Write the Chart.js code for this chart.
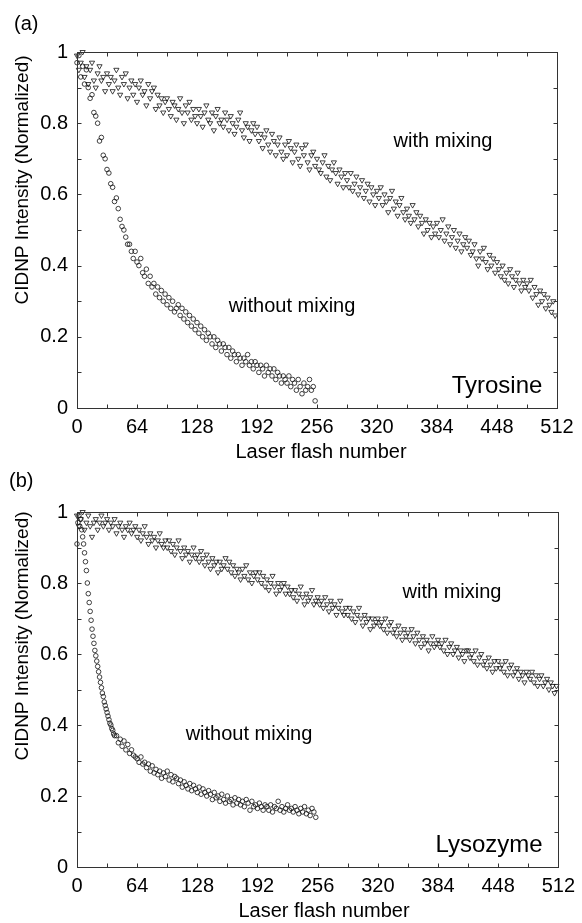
<!DOCTYPE html>
<html><head><meta charset="utf-8">
<script src="https://cdn.jsdelivr.net/npm/chart.js@4.4.0/dist/chart.umd.min.js"></script>
<style>
html,body{margin:0;padding:0;background:#fff;}
#wrap{position:relative;width:582px;height:923px;overflow:hidden;}
.panel{position:absolute;left:0;width:582px;}
canvas{display:block;}
</style></head><body>
<div id="wrap">
<div class="panel" style="top:0;height:460px"><canvas id="ca" width="582" height="460"></canvas></div>
<div class="panel" style="top:460px;height:463px"><canvas id="cb" width="582" height="463"></canvas></div>
</div>
<script>
// ---------- tick labels / tick marks ----------
const xTickLabels = [0, 64, 128, 192, 256, 320, 384, 448, 512];
const yTickLabels = [0, 0.2, 0.4, 0.6, 0.8, 1];
const xTickMarks = [32, 64, 96, 128, 160, 192, 224, 256, 288, 320, 352, 384, 416, 448, 480];
const yTickMarks = [0.1, 0.2, 0.3, 0.4, 0.5, 0.6, 0.7, 0.8, 0.9];

// ---------- flash numbers (categories) ----------
function flashRange(start, end, step) { const a = []; for (let f = start; f <= end; f += step) a.push(f); return a; }
const flashA_with = flashRange(0, 510, 2);
const flashA_without = flashRange(0, 254, 2);
const flashB_with = flashRange(0, 510, 2);
const flashB_without = flashRange(0, 40, 1).concat(flashRange(42, 254, 2));

// ---------- (a) Tyrosine ----------
const tyrWithMixing = [
0.99,0.95,0.97,1.00,0.93,0.96,0.91,0.95,0.97,0.92,0.90,0.94,0.96,0.92,0.93,0.89,
0.94,0.91,0.93,0.89,0.92,0.95,0.90,0.88,0.93,0.91,0.94,0.87,0.90,0.92,0.88,0.91,
0.86,0.90,0.92,0.88,0.89,0.85,0.91,0.87,0.89,0.90,0.84,0.88,0.85,0.87,0.83,0.86,
0.87,0.84,0.82,0.86,0.85,0.81,0.84,0.87,0.83,0.80,0.85,0.83,0.86,0.81,0.84,0.82,
0.80,0.84,0.82,0.79,0.83,0.85,0.81,0.80,0.83,0.78,0.82,0.84,0.80,0.81,0.79,0.83,
0.81,0.78,0.82,0.80,0.77,0.79,0.81,0.83,0.78,0.76,0.80,0.79,0.75,0.78,0.80,0.77,
0.79,0.75,0.77,0.73,0.76,0.78,0.74,0.72,0.77,0.75,0.71,0.74,0.76,0.72,0.70,0.74,
0.71,0.75,0.73,0.69,0.72,0.74,0.70,0.68,0.73,0.71,0.74,0.69,0.67,0.71,0.72,0.68,
0.70,0.67,0.66,0.69,0.71,0.65,0.68,0.64,0.67,0.69,0.66,0.63,0.67,0.65,0.62,0.66,
0.64,0.62,0.66,0.61,0.63,0.65,0.60,0.62,0.64,0.59,0.61,0.63,0.58,0.62,0.60,0.57,
0.61,0.59,0.62,0.57,0.60,0.58,0.55,0.59,0.61,0.56,0.58,0.54,0.57,0.59,0.55,0.53,
0.56,0.54,0.52,0.57,0.53,0.55,0.51,0.54,0.52,0.49,0.53,0.50,0.52,0.48,0.51,0.49,
0.52,0.48,0.50,0.53,0.47,0.49,0.51,0.46,0.48,0.50,0.45,0.47,0.49,0.44,0.46,0.48,
0.45,0.47,0.43,0.44,0.46,0.42,0.40,0.44,0.42,0.45,0.41,0.39,0.43,0.40,0.42,0.38,
0.41,0.39,0.37,0.40,0.36,0.38,0.35,0.39,0.37,0.34,0.36,0.38,0.35,0.33,0.36,0.34,
0.35,0.33,0.36,0.31,0.34,0.32,0.29,0.33,0.30,0.32,0.28,0.31,0.29,0.27,0.30,0.26
];
const tyrWithoutMixing = [
0.97,0.99,0.93,0.96,0.91,0.95,0.90,0.87,0.88,0.83,0.82,0.80,0.75,0.76,0.71,0.70,
0.67,0.66,0.63,0.62,0.58,0.59,0.56,0.53,0.51,0.50,0.48,0.46,0.46,0.44,0.42,0.44,
0.41,0.40,0.42,0.38,0.37,0.39,0.35,0.37,0.34,0.35,0.32,0.34,0.31,0.33,0.30,0.32,
0.29,0.31,0.28,0.30,0.27,0.28,0.29,0.26,0.28,0.25,0.27,0.24,0.26,0.23,0.25,0.22,
0.24,0.21,0.23,0.20,0.22,0.19,0.21,0.20,0.18,0.20,0.17,0.19,0.18,0.16,0.18,0.17,
0.15,0.17,0.14,0.16,0.15,0.13,0.15,0.14,0.12,0.14,0.13,0.15,0.12,0.13,0.11,0.13,
0.12,0.10,0.12,0.11,0.09,0.12,0.10,0.11,0.09,0.11,0.08,0.10,0.09,0.07,0.09,0.08,
0.07,0.09,0.06,0.08,0.07,0.05,0.08,0.06,0.04,0.07,0.05,0.06,0.08,0.05,0.06,0.02
];

// ---------- (b) Lysozyme ----------
const lysWithMixing = [
0.99,0.96,0.98,1.00,0.95,0.97,0.99,0.96,0.93,0.97,0.98,0.95,0.97,0.99,0.96,0.97,
0.98,0.95,0.97,0.96,0.98,0.94,0.96,0.97,0.95,0.93,0.96,0.95,0.97,0.94,0.95,0.96,
0.93,0.95,0.92,0.94,0.96,0.93,0.91,0.94,0.92,0.93,0.90,0.92,0.94,0.91,0.90,0.92,
0.90,0.92,0.89,0.91,0.88,0.90,0.92,0.89,0.87,0.90,0.88,0.89,0.86,0.88,0.90,0.87,
0.88,0.86,0.89,0.87,0.85,0.88,0.86,0.84,0.87,0.85,0.86,0.83,0.86,0.84,0.85,0.87,
0.84,0.86,0.83,0.85,0.82,0.84,0.83,0.81,0.84,0.82,0.85,0.81,0.83,0.80,0.82,0.83,
0.81,0.83,0.80,0.82,0.79,0.81,0.78,0.80,0.82,0.79,0.77,0.80,0.78,0.79,0.80,0.77,
0.79,0.77,0.78,0.76,0.78,0.75,0.77,0.79,0.76,0.74,0.77,0.75,0.76,0.78,0.74,0.75,
0.76,0.74,0.75,0.73,0.76,0.74,0.72,0.75,0.73,0.74,0.71,0.73,0.75,0.72,0.71,0.73,
0.71,0.73,0.70,0.72,0.69,0.71,0.73,0.70,0.68,0.71,0.69,0.70,0.67,0.70,0.68,0.69,
0.70,0.68,0.69,0.67,0.70,0.66,0.68,0.69,0.66,0.67,0.65,0.68,0.66,0.64,0.67,0.65,
0.66,0.64,0.67,0.65,0.63,0.66,0.64,0.62,0.65,0.63,0.64,0.61,0.63,0.65,0.62,0.63,
0.64,0.62,0.63,0.61,0.64,0.60,0.62,0.63,0.60,0.61,0.62,0.59,0.61,0.60,0.58,0.61,
0.61,0.59,0.60,0.58,0.61,0.57,0.59,0.60,0.57,0.58,0.56,0.59,0.57,0.55,0.58,0.56,
0.58,0.56,0.57,0.55,0.58,0.54,0.56,0.57,0.54,0.55,0.56,0.53,0.55,0.54,0.52,0.55,
0.54,0.53,0.55,0.52,0.54,0.51,0.53,0.54,0.51,0.52,0.53,0.50,0.52,0.51,0.49,0.51
];
const lysWithoutMixing = [
0.91,0.97,0.99,0.96,0.98,0.95,0.93,0.91,0.885,0.86,0.835,0.80,0.77,0.745,0.72,0.695,
0.67,0.65,0.63,0.61,0.595,0.58,0.565,0.55,0.535,0.52,0.505,0.49,0.48,0.465,0.455,0.445,
0.435,0.425,0.415,0.405,0.40,0.39,0.385,0.375,0.37,
0.37,0.35,0.36,0.34,0.355,0.33,0.345,0.32,0.33,0.315,0.31,0.305,0.295,0.31,0.29,0.295,
0.28,0.29,0.27,0.285,0.265,0.275,0.26,0.27,0.25,0.265,0.255,0.27,0.245,0.26,0.24,0.255,
0.25,0.235,0.245,0.225,0.24,0.23,0.22,0.235,0.215,0.23,0.22,0.21,0.225,0.205,0.22,0.21,
0.2,0.215,0.205,0.19,0.21,0.195,0.2,0.185,0.205,0.19,0.18,0.2,0.185,0.19,0.175,0.195,
0.18,0.19,0.175,0.185,0.17,0.19,0.18,0.16,0.185,0.17,0.175,0.165,0.18,0.17,0.16,0.175,
0.17,0.16,0.175,0.155,0.17,0.165,0.185,0.16,0.17,0.155,0.165,0.175,0.16,0.165,0.155,0.17,
0.16,0.15,0.165,0.155,0.17,0.15,0.16,0.145,0.165,0.155,0.14
];

const FONT = '"Liberation Sans", Arial, Helvetica, sans-serif';
const INK = '#000';

function toPoints(xs, ys) { return ys.map((v, i) => ({ x: xs[i], y: v })); }

const framePlugin = {
  id: 'frame',
  afterDatasetsDraw(chart, args, o) {
    const { ctx, chartArea: a, scales: { x, y } } = chart;
    ctx.save();
    ctx.strokeStyle = '#333';
    ctx.lineWidth = 1;
    const L = Math.round(a.left) + 0.5, R = Math.round(a.right) + 0.5;
    const T = Math.round(a.top) + 0.5, B = Math.round(a.bottom) + 0.5;
    ctx.strokeRect(L, T, R - L, B - T);
    ctx.beginPath();
    for (const v of xTickMarks) {
      const px = Math.round(x.getPixelForValue(v)) + 0.5;
      ctx.moveTo(px, B); ctx.lineTo(px, B - 4);
      ctx.moveTo(px, T); ctx.lineTo(px, T + 4);
    }
    for (const v of yTickMarks) {
      const py = Math.round(y.getPixelForValue(v)) + 0.5;
      ctx.moveTo(L, py); ctx.lineTo(L + 4, py);
      ctx.moveTo(R, py); ctx.lineTo(R - 4, py);
    }
    ctx.stroke();
    ctx.fillStyle = INK;
    ctx.textBaseline = 'alphabetic';
    ctx.font = '20px ' + FONT;
    ctx.textAlign = 'left';
    ctx.fillText(o.panel, o.panelX, o.panelY);
    for (const t of o.texts) {
      ctx.font = t.size + 'px ' + FONT;
      ctx.textAlign = 'center';
      ctx.fillText(t.text, t.x, t.y);
    }
    ctx.font = '20px ' + FONT;
    ctx.textAlign = 'center';
    ctx.fillText('Laser flash number', o.xTitleX, o.xTitleY);
    ctx.save();
    ctx.translate(23, o.yTitleY);
    ctx.rotate(-Math.PI / 2);
    ctx.font = '19px ' + FONT;
    ctx.textAlign = 'center';
    ctx.textBaseline = 'middle';
    ctx.fillText('CIDNP Intensity (Normalized)', 0, 0);
    ctx.restore();
    ctx.restore();
  }
};

function makeChart(id, withX, withY, withoutX, withoutY, pad, xHeight, opts) {
  return new Chart(document.getElementById(id), {
    type: 'scatter',
    data: {
      datasets: [
        {
          label: 'with mixing',
          data: toPoints(withX, withY),
          pointStyle: 'triangle', rotation: 180, radius: 3,
          borderColor: '#111', backgroundColor: 'rgba(255,255,255,0)', borderWidth: 0.8,
          clip: false
        },
        {
          label: 'without mixing',
          data: toPoints(withoutX, withoutY),
          pointStyle: 'circle', radius: 2.3,
          borderColor: '#111', backgroundColor: 'rgba(255,255,255,0)', borderWidth: 0.8,
          clip: false
        }
      ]
    },
    options: {
      responsive: false, animation: false, events: [],
      layout: { padding: pad },
      plugins: { legend: { display: false }, tooltip: { enabled: false }, frame: opts },
      scales: {
        x: {
          type: 'linear', min: 0, max: 512,
          afterBuildTicks: s => { s.ticks = xTickLabels.map(v => ({ value: v })); },
          afterFit: s => { s.height = xHeight; },
          ticks: { font: { family: FONT, size: 20 }, color: INK, padding: 7, maxRotation: 0, autoSkip: false },
          grid: { display: false, drawTicks: false }, border: { display: false }
        },
        y: {
          type: 'linear', min: 0, max: 1,
          afterBuildTicks: s => { s.ticks = yTickLabels.map(v => ({ value: v })); },
          afterFit: s => { s.width = 77; },
          ticks: { font: { family: FONT, size: 20 }, color: INK, padding: 9, callback: v => String(v) },
          grid: { display: false, drawTicks: false }, border: { display: false }
        }
      }
    },
    plugins: [framePlugin]
  });
}

makeChart('ca', flashA_with, tyrWithMixing, flashA_without, tyrWithoutMixing,
  { top: 52, right: 25, bottom: 0, left: 0 }, 52,
  { panel: '(a)', panelX: 14, panelY: 30, xTitleX: 321, xTitleY: 458, yTitleY: 180,
    texts: [
      { text: 'with mixing', x: 443, y: 147, size: 20 },
      { text: 'without mixing', x: 292, y: 312, size: 20 },
      { text: 'Tyrosine', x: 497, y: 393, size: 24 }
    ] });

makeChart('cb', flashB_with, lysWithMixing, flashB_without, lysWithoutMixing,
  { top: 52, right: 23, bottom: 0, left: 0 }, 56,
  { panel: '(b)', panelX: 9, panelY: 27, xTitleX: 324, xTitleY: 457, yTitleY: 176,
    texts: [
      { text: 'with mixing', x: 452, y: 138, size: 20 },
      { text: 'without mixing', x: 249, y: 280, size: 20 },
      { text: 'Lysozyme', x: 489, y: 392, size: 24 }
    ] });
</script>
</body></html>
